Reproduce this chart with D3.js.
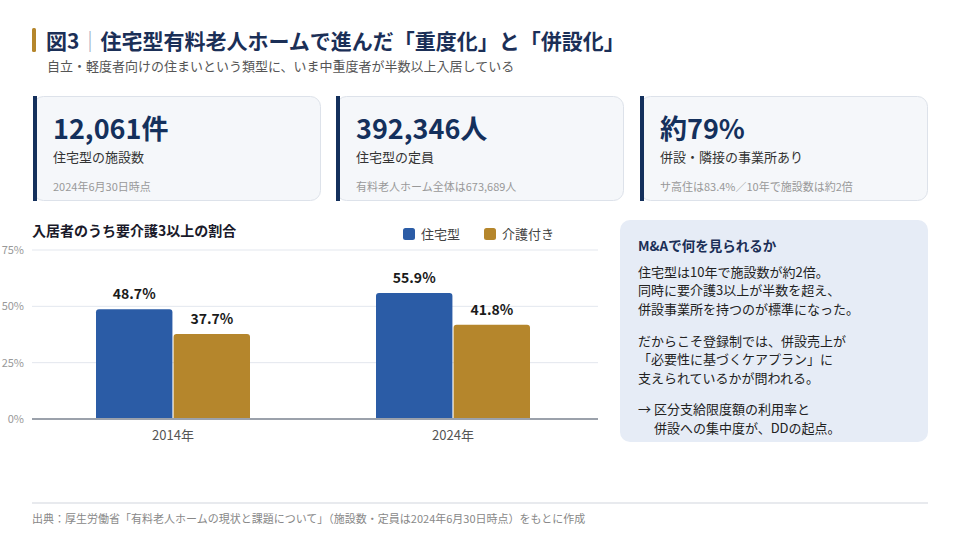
<!DOCTYPE html>
<html><head><meta charset="utf-8">
<script src="https://cdn.jsdelivr.net/npm/d3@7"></script>
<style>
html,body{margin:0;padding:0;background:#fff;}
svg{display:block;font-family:"Noto Sans CJK JP","Noto Sans",sans-serif;}
</style></head>
<body><svg id="c" width="960" height="545"></svg>
<script>
const categories = ["2014年", "2024年"];
const seriesNames = ["住宅型", "介護付き"];
const jutakuValues = [48.7, 55.9];
const kaigoValues = [37.7, 41.8];
const yTicks = [0, 25, 50, 75];
const cardValues = ["12,061件", "392,346人", "約79%"];
const cardLabels = ["住宅型の施設数", "住宅型の定員", "併設・隣接の事業所あり"];
const cardNotes = ["2024年6月30日時点", "有料老人ホーム全体は673,689人", "サ高住は83.4%／10年で施設数は約2倍"];
const panelTitle = "M&Aで何を見られるか";
const panelLines = ["住宅型は10年で施設数が約2倍。","同時に要介護3以上が半数を超え、","併設事業所を持つのが標準になった。","","だからこそ登録制では、併設売上が","「必要性に基づくケアプラン」に","支えられているかが問われる。","","→ 区分支給限度額の利用率と","　 併設への集中度が、DDの起点。"];

const svg = d3.select("#c");
const navy = "#1b2f57";

// Header
svg.append("rect").attr("x",32).attr("y",28).attr("width",4).attr("height",24).attr("rx",1.5).attr("fill","#b5862c");
const t = svg.append("text").attr("x",46).attr("y",49).attr("font-size",21).attr("font-weight",700).attr("fill",navy);
t.append("tspan").text("図3");
t.append("tspan").attr("fill","#9aa8bd").attr("font-weight",400).text("｜");
t.append("tspan").text("住宅型有料老人ホームで進んだ「重度化」と「併設化」");
svg.append("text").attr("x",47).attr("y",71).attr("font-size",13).attr("fill","#555").text("自立・軽度者向けの住まいという類型に、いま中重度者が半数以上入居している");

// Cards
const cardX = [33, 336, 640], cardW = 287, cardY = 96, cardH = 104;
cardValues.forEach((v,i)=>{
  const g = svg.append("g").attr("transform",`translate(${cardX[i]},${cardY})`);
  g.append("rect").attr("x",0.5).attr("y",0.5).attr("width",cardW).attr("height",cardH).attr("rx",10).attr("fill","#f5f7fa").attr("stroke","#dde2ea");
  g.append("rect").attr("x",0).attr("y",0).attr("width",4).attr("height",cardH+1).attr("fill","#14305c");
  g.append("text").attr("x",20).attr("y",43).attr("font-size",27).attr("font-weight",700).attr("fill","#14305c").text(v);
  g.append("text").attr("x",20).attr("y",66).attr("font-size",13).attr("fill","#333").text(cardLabels[i]);
  g.append("text").attr("x",20).attr("y",95).attr("font-size",11).attr("fill","#999").text(cardNotes[i]);
});

// Chart
const plot = {left:32, right:598, top:250, bottom:419};
svg.append("text").attr("x",32).attr("y",236).attr("font-size",14).attr("font-weight",700).attr("fill","#1a1a2a").text("入居者のうち要介護3以上の割合");
const colors = ["#2b5ca6","#b5862c"];
const legX = [403, 484];
seriesNames.forEach((s,i)=>{
  svg.append("rect").attr("x",legX[i]).attr("y",228).attr("width",12).attr("height",12).attr("rx",2.5).attr("fill",colors[i]);
  svg.append("text").attr("x",legX[i]+18).attr("y",239).attr("font-size",13).attr("fill","#444").text(s);
});

const y = d3.scaleLinear().domain([0,75]).range([plot.bottom, plot.top]);
const x0 = d3.scaleBand().domain(categories).range([33, 593]).paddingInner(0.45).paddingOuter(0.225);
const x1 = d3.scaleBand().domain(seriesNames).range([0, x0.bandwidth()]).paddingInner(0.015);

const grid = svg.append("g");
yTicks.forEach(tk=>{
  if(tk>0) grid.append("line").attr("x1",plot.left).attr("x2",plot.right).attr("y1",y(tk)).attr("y2",y(tk)).attr("stroke","#e3e7ee").attr("stroke-width",1);
});
const yAxis = d3.axisLeft(y).tickValues(yTicks).tickFormat(d=>d+"%").tickSize(0).tickPadding(8);
const ya = svg.append("g").attr("transform",`translate(${plot.left},0)`).call(yAxis);
ya.select(".domain").remove();
ya.selectAll("text").attr("font-size",11).attr("fill","#999").attr("font-family","'Noto Sans CJK JP',sans-serif");

const data = categories.map((c,i)=>({cat:c, vals:[{s:seriesNames[0],v:jutakuValues[i]},{s:seriesNames[1],v:kaigoValues[i]}]}));
function topRounded(x,yTop,w,h,r){
  return `M${x},${yTop+h}V${yTop+r}Q${x},${yTop} ${x+r},${yTop}H${x+w-r}Q${x+w},${yTop} ${x+w},${yTop+r}V${yTop+h}Z`;
}
const groups = svg.append("g").selectAll("g").data(data).join("g").attr("transform",d=>`translate(${x0(d.cat)},0)`);
groups.selectAll("path").data(d=>d.vals).join("path")
  .attr("d",d=>topRounded(x1(d.s), y(d.v), x1.bandwidth(), plot.bottom-y(d.v), 3))
  .attr("fill",(d,i)=>colors[i]);
groups.selectAll("text.lbl").data(d=>d.vals).join("text").attr("class","lbl")
  .attr("x",d=>x1(d.s)+x1.bandwidth()/2).attr("y",d=>y(d.v)-10)
  .attr("text-anchor","middle").attr("font-size",14).attr("font-weight",700).attr("fill","#1a1a1a")
  .text(d=>d.v.toFixed(1)+"%");

svg.append("line").attr("x1",plot.left).attr("x2",plot.right).attr("y1",y(0)).attr("y2",y(0)).attr("stroke","#9ba1ab").attr("stroke-width",2);
const xAxis = d3.axisBottom(x0).tickSize(0).tickPadding(12);
const xa = svg.append("g").attr("transform",`translate(0,${plot.bottom})`).call(xAxis);
xa.select(".domain").remove();
xa.selectAll("text").attr("font-size",13).attr("fill","#555").attr("font-family","'Noto Sans CJK JP',sans-serif");

// Right panel
svg.append("rect").attr("x",620).attr("y",220).attr("width",308).attr("height",222).attr("rx",10).attr("fill","#e6ecf6");
svg.append("text").attr("x",638).attr("y",251).attr("font-size",13.5).attr("font-weight",700).attr("fill",navy).text(panelTitle);
let ly = 277;
panelLines.forEach((l,i)=>{
  if(l===""){ ly += 13.5; return; }
  svg.append("text").attr("x",638).attr("y",ly).attr("font-size",13).attr("fill","#222").text(l);
  ly += 18.4;
});

// Footer
svg.append("line").attr("x1",32).attr("x2",928).attr("y1",503).attr("y2",503).attr("stroke","#e0e3e8").attr("stroke-width",1.5);
svg.append("text").attr("x",32).attr("y",523).attr("font-size",11).attr("fill","#888").text("出典：厚生労働省「有料老人ホームの現状と課題について」（施設数・定員は2024年6月30日時点）をもとに作成");
</script></body></html>
